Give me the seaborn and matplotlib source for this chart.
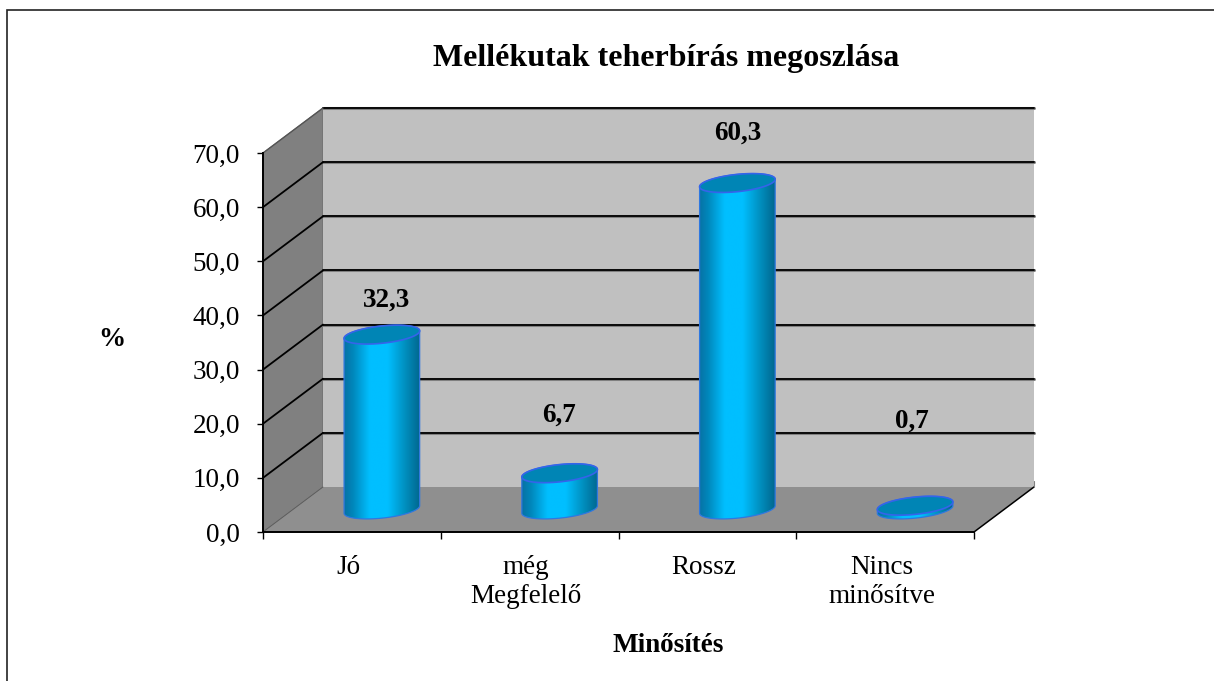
# Mellekutak teherbiras chart, fake 3D cylinders on a seaborn barplot
import numpy as np
import seaborn as sns
import matplotlib
matplotlib.use('Agg')
import matplotlib.pyplot as plt
from matplotlib.colors import LinearSegmentedColormap
from matplotlib.patches import Polygon, Rectangle
from matplotlib.transforms import Affine2D, IdentityTransform

# Data
categories = ['Jó', 'még\nMegfelelő', 'Rossz', 'Nincs\nminősítve']
values = [32.3, 6.7, 60.3, 0.7]
value_labels = ['32,3', '6,7', '60,3', '0,7']
y_ticks = [0, 10, 20, 30, 40, 50, 60, 70]
y_tick_labels = ['0,0', '10,0', '20,0', '30,0', '40,0', '50,0', '60,0', '70,0']

# Label offsets from the bar top, in pixels
label_offsets = [(5, 34), (-1, 58), (0, 50), (-3, 85)]

sns.set_theme(style='white')
plt.rcParams['font.family'] = ['Liberation Serif', 'DejaVu Serif']

W, H = 1214, 681
fs = 19.5
fig = plt.figure(figsize=(W / 100, H / 100), dpi=100, facecolor='white')
ax = fig.add_axes([263 / W, (H - 532) / H, 711 / W, 379 / H])
ax.patch.set_visible(False)
sns.barplot(x=categories, y=values, ax=ax, width=0.42, color='#00bfff', zorder=5)
ax.set_xlim(-0.5, 3.5)
ax.set_ylim(0, 70)

depth = np.array([60.0, 45.0])


def px(x, y, d=0.0):
    return ax.transData.transform((x, y)) + depth * d


def add_poly(points, **kw):
    p = Polygon(points, closed=True, transform=IdentityTransform(), clip_on=False, **kw)
    ax.add_patch(p)
    return p


# Walls and floor
add_poly([px(-0.5, 0), px(-0.5, 0, 1), px(-0.5, 70, 1), px(-0.5, 70)], fc='#808080', ec='#6a6a6a', lw=0.7, zorder=1)
add_poly([px(-0.5, 0, 1), px(3.5, 0, 1), px(3.5, 70, 1), px(-0.5, 70, 1)], fc='#c0c0c0', ec='none', zorder=1)
add_poly([px(-0.5, 0), px(3.5, 0), px(3.5, 0, 1), px(-0.5, 0, 1)], fc='#8f8f8f', ec='none', zorder=1)


def add_line(a, b, color='black', lw=1.3, z=2):
    line = plt.Line2D([a[0], b[0]], [a[1], b[1]], color=color, lw=lw,
                      transform=IdentityTransform(), clip_on=False, zorder=z)
    ax.add_line(line)


# Gridlines run along the left wall and across the back wall
for t in y_ticks[1:]:
    add_line(px(-0.5, t, 1), px(3.5, t, 1), color='#808080', lw=2.2, z=1.5)
    add_line(px(-0.5, t, 1), px(3.5, t, 1))
    if t < 70:
        add_line(px(-0.5, t), px(-0.5, t, 1))
add_line(px(-0.5, 70), px(-0.5, 70, 1), color='#555555', lw=1.0)
add_line(px(3.5, 0), px(3.5, 0, 1), lw=1.1)
add_line(px(-0.5, 0), px(-0.5, 0, 1), color='#5a5a5a', lw=0.6)
add_line(px(3.5, 0, 1), px(3.5, 1.2, 1), color='#808080', lw=0.8)

# Cylinders, one for each seaborn bar
shade = LinearSegmentedColormap.from_list(
    'cyl', [(0, '#0a6a9c'), (0.15, '#0088bc'), (0.35, '#00bfff'), (0.57, '#00bfff'),
            (0.78, '#0090c0'), (1, '#005f85')])
grad = np.linspace(0, 1, 256).reshape(1, -1)
mid = ax.transData + Affine2D().translate(*(depth / 2))
ax_a = 38.0
ax_b = 8.6
tilt = np.deg2rad(6)


def ell(center, t):
    ex = ax_a * np.cos(t)
    ey = ax_b * np.sin(t)
    return np.column_stack([center[0] + ex * np.cos(tilt) - ey * np.sin(tilt),
                            center[1] + ex * np.sin(tilt) + ey * np.cos(tilt)])


for bar, label, off in zip(ax.patches, value_labels, label_offsets):
    bar.set_visible(False)
    x0, w, h = bar.get_x(), bar.get_width(), bar.get_height()
    xc = x0 + w / 2
    low = px(xc, 0, 0.5)
    top = px(xc, h, 0.5)
    body = np.vstack([ell(low, np.linspace(np.pi, 2 * np.pi, 60)),
                      ell(top, np.linspace(0, np.pi, 60))])
    im = ax.imshow(grad, cmap=shade, aspect='auto', extent=(x0 - 0.02, x0 + w + 0.02, -3, h + 3),
                   transform=mid, zorder=5, interpolation='bilinear')
    im.set_clip_path(matplotlib.path.Path(body), transform=IdentityTransform())
    # Side and bottom outline, then the lid
    add_poly(body, fc='none', ec='#2f78e0', lw=0.9, zorder=6)
    add_poly(ell(top, np.linspace(0, 2 * np.pi, 120)), fc='#0085b5', ec='#3564ea', lw=1.2, zorder=7)
    ax.annotate(label, xy=(xc, h), xycoords=mid, xytext=(off[0], off[1]), textcoords='offset pixels',
                ha='center', va='center', fontsize=fs, fontweight='bold', color='black',
                annotation_clip=False, zorder=8)

ax.set_xlim(-0.5, 3.5)
ax.set_ylim(0, 70)

# Axes and ticks
for side in ['top', 'right']:
    ax.spines[side].set_visible(False)
for side in ['left', 'bottom']:
    ax.spines[side].set_color('black')
    ax.spines[side].set_linewidth(1.4)
    ax.spines[side].set_zorder(4)
ax.set_yticks(y_ticks)
ax.set_yticklabels(y_tick_labels, fontsize=fs, color='black')
ax.set_xticks(np.arange(-0.5, 4, 1))
ax.set_xticklabels([])
ax.set_xticks(np.arange(len(categories)) - 0.02, minor=True)
ax.set_xticklabels(categories, minor=True, fontsize=fs, color='black', linespacing=1.2)
ax.tick_params(axis='y', which='major', length=4.5, width=1, left=True, pad=12, colors='black')
ax.tick_params(axis='x', which='major', length=5, width=1, bottom=True, colors='black')
ax.tick_params(axis='x', which='minor', length=0, pad=16.5)

# Titles
ax.set_title('Mellékutak teherbírás megoszlása', fontsize=23, fontweight='bold', color='black',
             x=(666 - 263) / 711, y=(532 - 67) / 379, va='center')
ax.set_xlabel('Minősítés', fontsize=fs, fontweight='bold', color='black')
ax.xaxis.set_label_coords((668 - 263) / 711, (532 - 646) / 379)
ax.xaxis.label.set_va('center')
ax.set_ylabel('%', fontsize=fs, fontweight='bold', color='black', rotation=0, va='center', ha='center')
ax.yaxis.set_label_coords((112 - 263) / 711, (532 - 340) / 379)

# Outer frame, cut off by the right and bottom edges of the picture
fig.add_artist(Rectangle((7.0 / W, -0.2), 1.2, 1.2 - 9.5 / H, transform=fig.transFigure,
                         fill=False, ec='#222222', lw=1.2))

fig.savefig('out.png', dpi=100)
